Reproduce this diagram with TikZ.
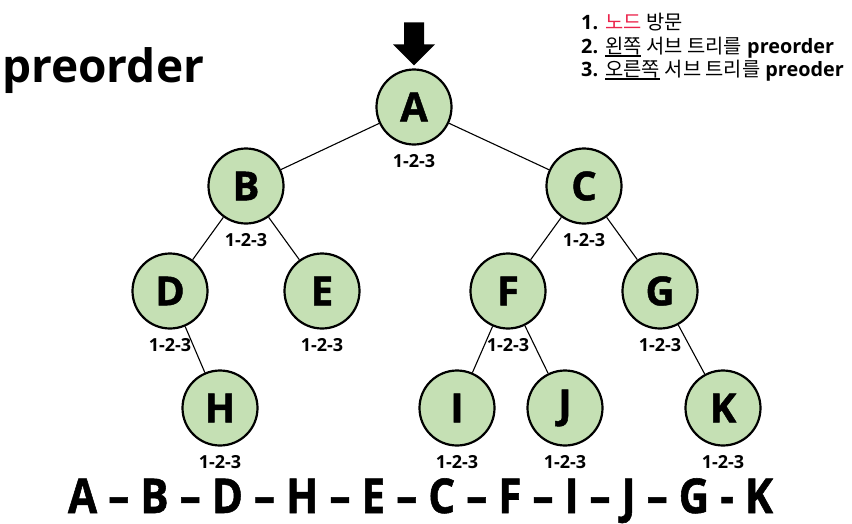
\documentclass[tikz,border=0pt]{standalone}
\usepackage{graphicx}
\usepackage{fontspec}
\setmainfont{Open Sans}
\newfontfamily\kr{Noto Sans CJK KR}
\newfontfamily\heavy[BoldFeatures={FakeBold=1.2}]{Open Sans}
\newcommand\krunder[1]{\leavevmode\setbox0\hbox{#1}\rlap{\rule[-4pt]{\wd0}{1.6pt}}\box0}
\usetikzlibrary{positioning}
\definecolor{nodegreen}{HTML}{C5E0B4}
\definecolor{visitred}{RGB}{235,35,75}

\begin{document}
\begin{tikzpicture}[x=1pt,y=-1pt,
    vertex/.style={draw,circle,line width=2.2pt,fill=nodegreen,minimum size=75pt,inner sep=0pt,font=\fontsize{40}{40}\heavy\bfseries},
    order/.style={font=\fontsize{18}{18}\selectfont\bfseries,inner sep=0pt},
    legend/.style={anchor=base west,inner sep=0pt,font=\fontsize{19.8}{20}\selectfont},
    edge/.style={line width=1.1pt}]
  \useasboundingbox (0,0) rectangle (852,523);
  % tree
  \foreach \n/\x/\y in {A/414/107,B/246/186,C/584/186,D/170/291,E/322/291,F/508/291,G/660/291,H/220/408,I/457/408,J/565/408,K/723/408} {
    \node[vertex] (\n) at (\x,\y) {\n};
    \node[order,below=9pt of \n] (\n-order) {1-2-3};
  }
  \foreach \a/\b in {A/B,A/C,B/D,B/E,C/F,C/G,D/H,F/I,F/J,G/K}
    \draw[edge] (\a) -- (\b);
  % start arrow
  \fill[shift={(A.north)}] (-10,-46) -- (10,-46) -- (10,-24) -- (21,-24) -- (0,-3) -- (-21,-24) -- (-10,-24) -- cycle;
  % texts
  \node[anchor=base west,inner sep=0pt,font=\fontsize{46}{46}\selectfont\bfseries] (title) at (2,82) {preorder};
  \node[legend] (rule1) at (581,29) {\textbf{1.} {\kr\color{visitred}노드} {\kr 방문}};
  \node[legend] (rule2) at (581,53) {\textbf{2.} {\kr\krunder{왼쪽}} {\kr 서브 트리를} \textbf{preorder}};
  \node[legend] (rule3) at (581,76) {\textbf{3.} {\kr\krunder{오른쪽}} {\kr 서브 트리를} \textbf{preoder}};
  \node[anchor=base,inner sep=0pt,font=\fontsize{48}{48}\heavy\bfseries] (sequence) at (420.5,513) {\resizebox{705pt}{\height}{A – B – D – H – E – C – F – I – J – G - K}};
\end{tikzpicture}
\end{document}
